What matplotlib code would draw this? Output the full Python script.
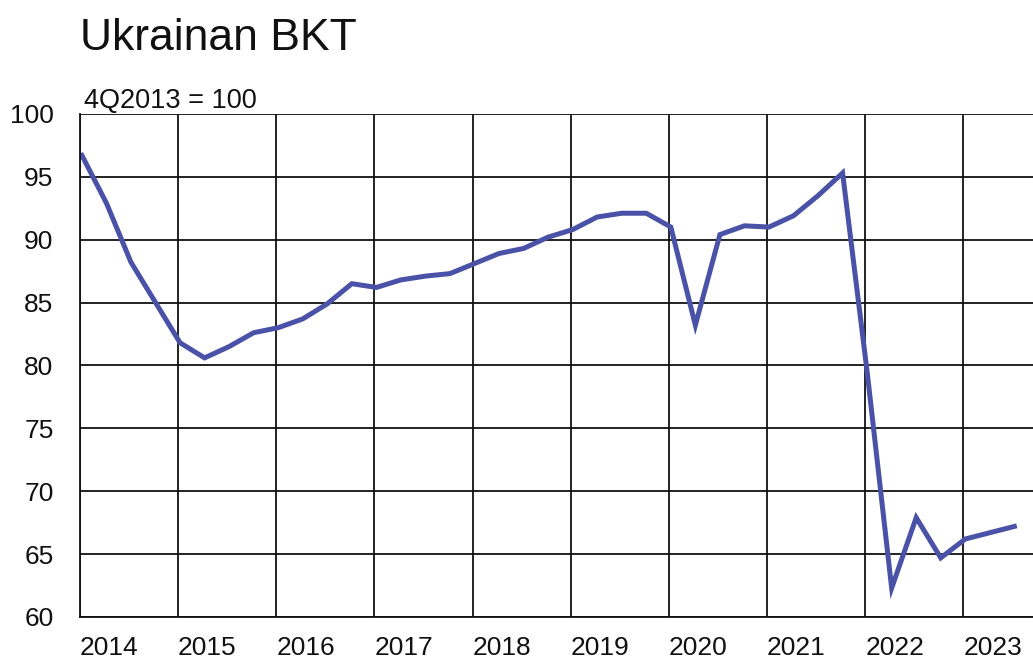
import matplotlib
matplotlib.use("Agg")
import matplotlib.pyplot as plt

plt.rcParams["font.family"] = ["Liberation Sans", "DejaVu Sans"]

# quarterly index, 4Q2013 = 100, from 1Q2014 to 3Q2023
years = [2014] * 4 + [2015] * 4 + [2016] * 4 + [2017] * 4 + [2018] * 4 + \
        [2019] * 4 + [2020] * 4 + [2021] * 4 + [2022] * 4 + [2023] * 3
quarters = [1, 2, 3, 4] * 9 + [1, 2, 3]
bkt = [96.7, 92.9, 88.2, 85.0,
       81.8, 80.6, 81.5, 82.6,
       83.0, 83.7, 84.9, 86.5,
       86.2, 86.8, 87.1, 87.3,
       88.1, 88.9, 89.3, 90.2,
       90.8, 91.8, 92.1, 92.1,
       91.0, 83.2, 90.4, 91.1,
       91.0, 91.9, 93.5, 95.3,
       79.5, 62.3, 67.9, 64.7,
       66.2, 66.7, 67.2]
year_labels = [2014, 2015, 2016, 2017, 2018, 2019, 2020, 2021, 2022, 2023]

x = [y + (q - 1) / 4 + 0.02 for y, q in zip(years, quarters)]

fig = plt.figure(figsize=(10.33, 6.62), dpi=100)
ax = fig.add_axes([0.0774, 0.068, 0.9226, 0.76])

ax.plot(x, bkt, color="#4a52a8", linewidth=3.6, solid_joinstyle="miter")

ax.set_xlim(2014, 2023.71)
ax.set_ylim(60, 100)
ax.set_yticks(range(60, 101, 5))
ax.set_xticks(year_labels)
ax.set_xticklabels([str(y) for y in year_labels], ha="left")

ax.grid(True, color="#111111", linewidth=1.3)
ax.set_axisbelow(True)
for side in ["top", "right"]:
    ax.spines[side].set_visible(False)
ax.spines["left"].set_color("#111111")
ax.spines["bottom"].set_color("#111111")
ax.spines["left"].set_linewidth(1.3)
ax.spines["bottom"].set_linewidth(1.3)

ax.tick_params(axis="both", length=0, labelsize=19, colors="#111111")
ax.tick_params(axis="y", pad=19)
ax.tick_params(axis="x", pad=14)

ax.annotate("4Q2013 = 100", xy=(0, 1), xycoords="axes fraction",
            xytext=(3, 4), textcoords="offset points",
            fontsize=19.5, va="baseline", ha="left", color="#111111")

fig.text(80 / 1033, 1 - 50 / 662, "Ukrainan BKT", fontsize=32,
         va="baseline", ha="left", color="#111111")

fig.savefig("out.png", dpi=100)
